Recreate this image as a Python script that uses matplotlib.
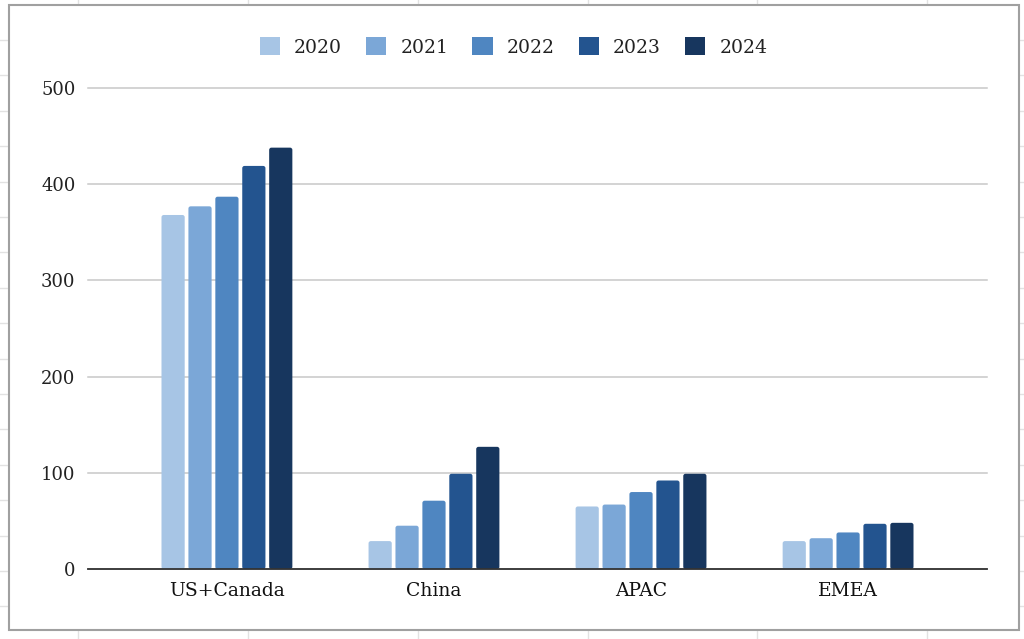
import matplotlib
matplotlib.use("Agg")
import matplotlib.pyplot as plt
import numpy as np
from matplotlib.patches import FancyBboxPatch, Rectangle, Patch
from matplotlib.lines import Line2D

regions = ["US+Canada", "China", "APAC", "EMEA"]
years = ["2020", "2021", "2022", "2023", "2024"]
v2020 = [368, 29, 65, 29]
v2021 = [377, 45, 67, 32]
v2022 = [387, 71, 80, 38]
v2023 = [419, 99, 92, 47]
v2024 = [438, 127, 99, 48]
series = [v2020, v2021, v2022, v2023, v2024]
colors = ["#a7c5e5", "#7ba7d7", "#4f86c1", "#23548f", "#17365e"]
yticks = [0, 100, 200, 300, 400, 500]

plt.rcParams['font.family'] = ['DejaVu Serif']

W, H = 1024, 639
fig = plt.figure(figsize=(W / 100, H / 100), dpi=100)
fig.patch.set_facecolor("white")

# spreadsheet grid in the background
for x in [78, 248, 418, 588, 757, 927]:
    fig.add_artist(Line2D([x / W, x / W], [0, 1], color="#e2e2e2", lw=1, zorder=0))
for k in range(17):
    y = 40 + 35.4 * k
    fig.add_artist(Line2D([0, 1], [1 - y / H, 1 - y / H], color="#e2e2e2", lw=1, zorder=0))

# chart card
fig.add_artist(Rectangle((9 / W, 1 - 630 / H), (1019 - 9) / W, (630 - 5) / H,
                         facecolor="white", edgecolor="#a0a0a0", lw=1.5, zorder=1))

ax = fig.add_axes([88 / W, 1 - 569 / H, (987 - 88) / W, (569 - 88) / H], zorder=2)
ax.set_facecolor("none")
x = np.arange(len(regions))
pitch = 0.13
bw = 0.112
for i, (vals, c) in enumerate(zip(series, colors)):
    bars = ax.bar(x + (i - 2) * pitch, vals, width=bw, color=c, zorder=3)
    for b in bars:
        bx, by, bwid, bh = b.get_x(), b.get_y(), b.get_width(), b.get_height()
        b.remove()
        ax.add_patch(FancyBboxPatch((bx, by), bwid, bh,
                                    boxstyle="round,pad=0,rounding_size=0.011",
                                    mutation_aspect=215, facecolor=c,
                                    edgecolor="none", zorder=3))

ax.set_xlim(-0.671, 3.671)
ax.set_ylim(0, 500)
ax.set_yticks(yticks)
ax.set_yticklabels([str(t) for t in yticks], fontsize=13, color="#222222")
ax.set_xticks(x)
ax.set_xticklabels(regions, fontsize=13.5, color="#111111")
ax.tick_params(axis="both", length=0)
ax.tick_params(axis="y", pad=9)
ax.tick_params(axis="x", pad=9)
for s in ["top", "right", "left"]:
    ax.spines[s].set_visible(False)
ax.spines["bottom"].set_color("#333333")
ax.spines["bottom"].set_linewidth(1.3)
ax.spines["bottom"].set_zorder(4)
ax.grid(axis="y", color="#c8c8c8", lw=1.1, zorder=0)
for gl in ax.get_ygridlines():
    gl.set_clip_on(False)
ax.set_axisbelow(True)

handles = [Patch(facecolor=c, edgecolor="none", label=y) for y, c in zip(years, colors)]
fig.legend(handles=handles, loc="center", bbox_to_anchor=(513.5 / W, 1 - 47 / H),
           ncol=5, frameon=False, fontsize=13.5, handlelength=1.07, handleheight=1.07,
           handletextpad=0.75, columnspacing=1.3, labelcolor="#222222")

fig.savefig("out.png", dpi=100)
